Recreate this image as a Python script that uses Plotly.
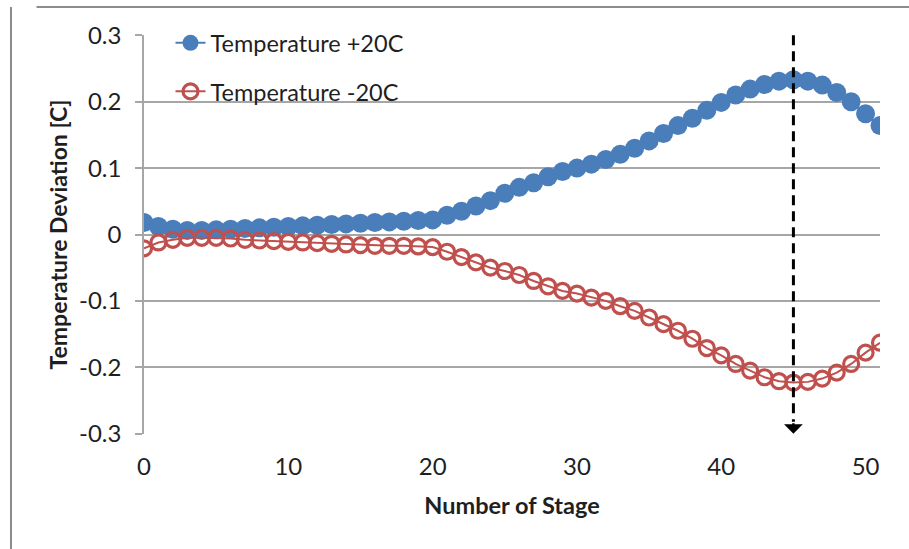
import plotly.graph_objects as go

# Stage number along the column
stages = list(range(0, 52))

# Temperature deviation [C] per stage for a +20C feed temperature change
dev_plus20 = [
    0.018, 0.012, 0.008, 0.006, 0.006, 0.007, 0.008, 0.009, 0.010, 0.011,
    0.012, 0.013, 0.014, 0.015, 0.016, 0.017, 0.018, 0.019, 0.020, 0.021,
    0.022, 0.029, 0.035, 0.043, 0.051, 0.062, 0.071, 0.078, 0.087, 0.095,
    0.100, 0.106, 0.113, 0.121, 0.130, 0.141, 0.152, 0.164, 0.175, 0.187,
    0.199, 0.210, 0.219, 0.226, 0.231, 0.233, 0.231, 0.225, 0.214, 0.200,
    0.182, 0.164,
]

# Temperature deviation [C] per stage for a -20C feed temperature change
dev_minus20 = [
    -0.021, -0.012, -0.008, -0.005, -0.005, -0.005, -0.006, -0.008, -0.009, -0.010,
    -0.011, -0.012, -0.013, -0.014, -0.015, -0.016, -0.017, -0.017, -0.017, -0.018,
    -0.019, -0.026, -0.034, -0.042, -0.050, -0.055, -0.061, -0.070, -0.078, -0.085,
    -0.089, -0.095, -0.100, -0.108, -0.115, -0.125, -0.135, -0.145, -0.157, -0.171,
    -0.182, -0.195, -0.205, -0.215, -0.221, -0.223, -0.222, -0.217, -0.208, -0.195,
    -0.178, -0.163,
]

# Stage with the largest deviation (marked with the dashed arrow)
sensitive_stage = 45

x_ticks = [0, 10, 20, 30, 40, 50]
y_ticks = [-0.3, -0.2, -0.1, 0, 0.1, 0.2, 0.3]
y_tick_text = ["-0.3", "-0.2", "-0.1", "0", "0.1", "0.2", "0.3"]

BLUE = "#4A7EBB"
RED = "#C0504D"
GRID = "#A6A6A6"
TEXT = "#1F1F1F"
FONT = "Lato, 'Open Sans', sans-serif"

fig = go.Figure()

fig.add_trace(go.Scatter(
    x=stages, y=dev_plus20, mode="lines+markers", name="Temperature +20C",
    legendgroup="a",
    line=dict(color=BLUE, width=2),
    marker=dict(symbol="circle", size=19, color=BLUE, line=dict(width=0)),
))
fig.add_trace(go.Scatter(
    x=stages, y=dev_minus20, mode="lines+markers", name="Temperature -20C",
    legendgroup="b",
    line=dict(color=RED, width=2),
    marker=dict(symbol="circle-open", size=15, color=RED, line=dict(width=3.2, color=RED)),
))

# Dashed marker line at the most sensitive stage
fig.add_shape(type="line", xref="x", yref="y",
              x0=sensitive_stage, x1=sensitive_stage, y0=0.3, y1=-0.282,
              line=dict(color="black", width=3, dash="10px,6px"))
fig.add_annotation(x=sensitive_stage, y=-0.3, ax=sensitive_stage, ay=-0.282,
                   xref="x", yref="y", axref="x", ayref="y",
                   text="", showarrow=True, arrowhead=1, arrowsize=1.25,
                   arrowwidth=2.5, arrowcolor="black", standoff=0)

# Chart-area border (left and top edges)
fig.add_shape(type="line", xref="paper", yref="paper", x0=-0.146, x1=1.05,
              y0=1.0 + 28 / 399, y1=1.0 + 28 / 399,
              line=dict(color="#8C8C8C", width=2))
fig.add_shape(type="line", xref="paper", yref="paper", x0=-133 / 736, x1=-133 / 736,
              y0=1.0 + 28 / 399, y1=-0.4,
              line=dict(color="#8C8C8C", width=2))

fig.update_layout(
    width=909, height=549,
    margin=dict(l=144, r=29, t=35, b=115),
    paper_bgcolor="white", plot_bgcolor="white",
    font=dict(family=FONT, size=24, color=TEXT),
    showlegend=True,
    legend=dict(x=0.036, y=1.035, xanchor="left", yanchor="top",
                bgcolor="rgba(0,0,0,0)", tracegroupgap=15,
                font=dict(size=23.5, color=TEXT)),
    xaxis=dict(range=[0, 51], tickvals=x_ticks, showgrid=False, zeroline=False,
               showline=False, ticks="", ticklabelstandoff=16,
               title=dict(text="<b>Number of Stage</b>", standoff=18,
                          font=dict(size=23.5))),
    xaxis2=dict(range=[0, 51], overlaying="x", anchor="free", position=0.5,
                side="bottom", tickvals=x_ticks, showticklabels=False,
                showline=True, linecolor=GRID, linewidth=1.5,
                ticks="outside", ticklen=7, tickcolor=GRID, tickwidth=1.5,
                showgrid=False, zeroline=False),
    yaxis=dict(range=[-0.3005, 0.3005], tickvals=y_ticks, ticktext=y_tick_text,
               showgrid=True, gridcolor=GRID, gridwidth=1.5, zeroline=False,
               showline=True, linecolor=GRID, linewidth=1.5,
               ticks="outside", ticklen=7, tickcolor=GRID, tickwidth=1.5,
               ticklabelstandoff=9,
               title=dict(text="<b>Temperature Deviation [C]</b>", standoff=5,
                          font=dict(size=23))),
)

fig.write_html("out.html")
